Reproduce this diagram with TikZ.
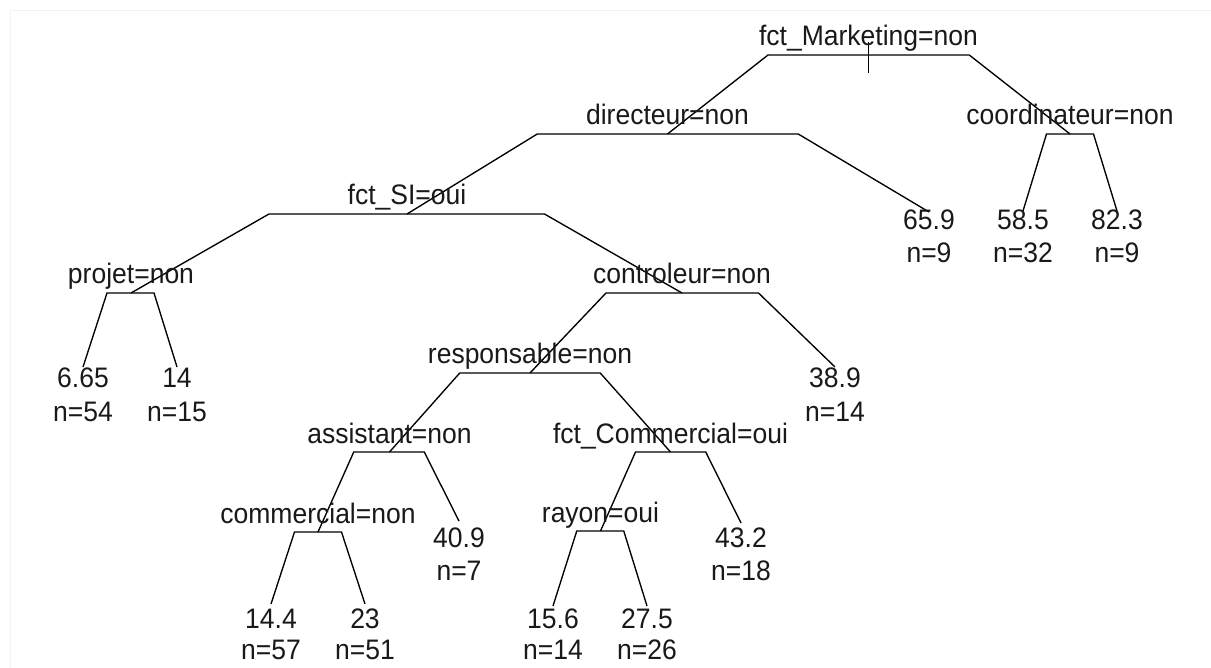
\documentclass[tikz,border=0pt]{standalone}
\usepackage{fontspec}
\setmainfont{Liberation Sans}[FakeStretch=0.94]
\usetikzlibrary{calc}
\begin{document}
\begin{tikzpicture}[x=1pt,y=-1pt,
  lab/.style={font=\fontsize{28.2}{32}\selectfont, inner sep=0pt, anchor=base, text=black!90},
  branch/.style={line width=1.35pt, line join=miter, draw=black}]
\useasboundingbox (0,0) rectangle (1211,668);
\fill[white] (0,0) rectangle (1211,668);
\draw[black!5, line width=1pt] (10,668) -- (10,11) -- (1211,11);
% tree points
\coordinate (R) at (868.5,55);
\coordinate (D) at (667.5,134);
\coordinate (C) at (1070,134);
\coordinate (S) at (407,214);
\coordinate (CT) at (682,293);
\coordinate (P) at (131,293);
\coordinate (RS) at (530,373);
\coordinate (A) at (389.5,452);
\coordinate (FC) at (670.5,452);
\coordinate (CM) at (318,532);
\coordinate (RY) at (600.5,531);
\coordinate (L1) at (83,367);
\coordinate (L2) at (177,367);
\coordinate (L3) at (271,604);
\coordinate (L4) at (365,604);
\coordinate (L5) at (459,521);
\coordinate (L6) at (553,606);
\coordinate (L7) at (647,606);
\coordinate (L8) at (741,523);
\coordinate (L9) at (835,367);
\coordinate (L10) at (929,212);
\coordinate (L11) at (1023,211);
\coordinate (L12) at (1117,211);
\newcommand\splitdraw[3]{\draw[branch] (#2) -- ($(#1)!0.5!(#2 |- #1)$) -- ($(#1)!0.5!(#3 |- #1)$) -- (#3);}
\splitdraw{R}{D}{C}
\splitdraw{D}{S}{L10}
\splitdraw{C}{L11}{L12}
\splitdraw{S}{P}{CT}
\splitdraw{P}{L1}{L2}
\splitdraw{CT}{RS}{L9}
\splitdraw{RS}{A}{FC}
\splitdraw{A}{CM}{L5}
\splitdraw{FC}{RY}{L8}
\splitdraw{CM}{L3}{L4}
\splitdraw{RY}{L6}{L7}
\draw[branch] ($(R)+(0,-13)$) coordinate (tickT) -- ($(R)+(0,18)$) coordinate (tickB);
% split labels
\node[lab] (tR) at ($(R)+(0,-9)$) {fct\_Marketing=non};
\node[lab] (tD) at ($(D)+(0,-9)$) {directeur=non};
\node[lab] (tC) at ($(C)+(0,-9)$) {coordinateur=non};
\node[lab] (tS) at ($(S)+(0,-9)$) {fct\_SI=oui};
\node[lab] (tCT) at ($(CT)+(0,-9)$) {controleur=non};
\node[lab] (tP) at ($(P)+(0,-9)$) {projet=non};
\node[lab] (tRS) at ($(RS)+(0,-9)$) {responsable=non};
\node[lab] (tA) at ($(A)+(0,-9)$) {assistant=non};
\node[lab] (tFC) at ($(FC)+(0,-9)$) {fct\_Commercial=oui};
\node[lab] (tCM) at ($(CM)+(0,-9)$) {commercial=non};
\node[lab] (tRY) at ($(RY)+(0,-9)$) {rayon=oui};
% leaf labels
\node[lab] (v10) at (L10 |- 0,230) {65.9};
\node[lab] (n10) at (L10 |- 0,263) {n=9};
\node[lab] (v11) at (L11 |- 0,230) {58.5};
\node[lab] (n11) at (L11 |- 0,263) {n=32};
\node[lab] (v12) at (L12 |- 0,230) {82.3};
\node[lab] (n12) at (L12 |- 0,263) {n=9};
\node[lab] (v1) at (L1 |- 0,388) {6.65};
\node[lab] (n1) at (L1 |- 0,421) {n=54};
\node[lab] (v2) at (L2 |- 0,388) {14};
\node[lab] (n2) at (L2 |- 0,421) {n=15};
\node[lab] (v9) at (L9 |- 0,388) {38.9};
\node[lab] (n9) at (L9 |- 0,421) {n=14};
\node[lab] (v5) at (L5 |- 0,547) {40.9};
\node[lab] (n5) at (L5 |- 0,580) {n=7};
\node[lab] (v8) at (L8 |- 0,547) {43.2};
\node[lab] (n8) at (L8 |- 0,580) {n=18};
\node[lab] (v3) at (L3 |- 0,628) {14.4};
\node[lab] (n3) at (L3 |- 0,659) {n=57};
\node[lab] (v4) at (L4 |- 0,628) {23};
\node[lab] (n4) at (L4 |- 0,659) {n=51};
\node[lab] (v6) at (L6 |- 0,628) {15.6};
\node[lab] (n6) at (L6 |- 0,659) {n=14};
\node[lab] (v7) at (L7 |- 0,628) {27.5};
\node[lab] (n7) at (L7 |- 0,659) {n=26};
\end{tikzpicture}
\end{document}
